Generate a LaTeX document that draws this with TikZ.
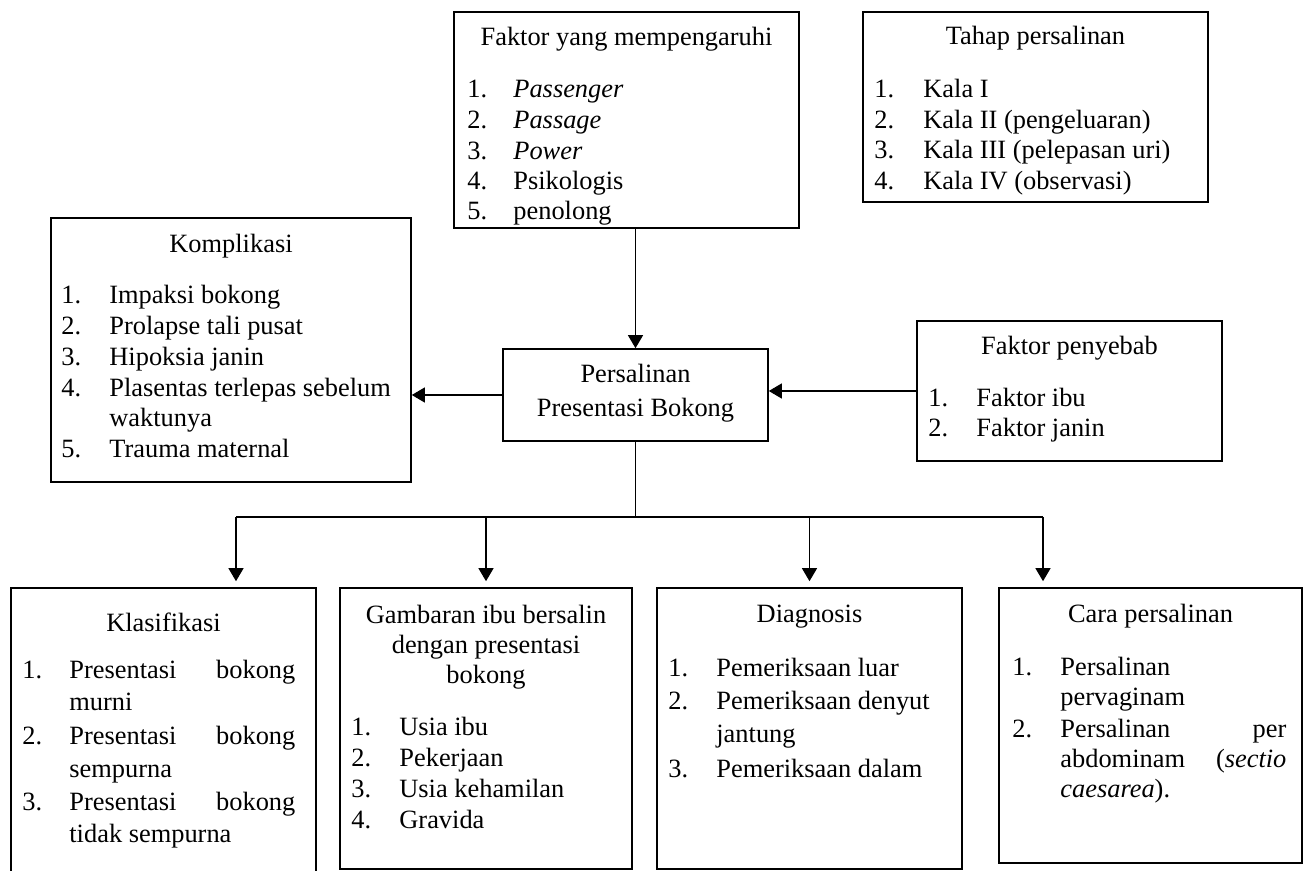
\documentclass[tikz,border=0pt]{standalone}
\usepackage{fontspec}
\setmainfont{Liberation Serif}
\usetikzlibrary{arrows.meta,fit}
\begin{document}
\begin{tikzpicture}[x=0.5pt,y=-0.5pt,
  font=\fontsize{13.2}{15.25}\selectfont,
  box/.style={draw,line width=0.8pt,inner sep=0pt},
  ttl/.style={anchor=base,inner sep=0pt},
  itm/.style={anchor=base west,inner sep=0pt},
  conn/.style={line width=0.6pt},
  arr/.style={conn,-{Triangle[width=7.5pt,length=6.5pt]}}]
\clip (0,0) rectangle (1307,871);
\fill[white] (0,0) rectangle (1307,871);

% Faktor yang mempengaruhi
\node[box,fit={(454,12) (799,228)}] (fm) {};
\node[ttl] (fmT) at (626.5,46) {Faktor yang mempengaruhi};
\node[itm] (fmN1) at (467,98) {1.};  \node[itm] (fmI1) at (513,98) {\textit{Passenger}};
\node[itm] (fmN2) at (467,129) {2.}; \node[itm] (fmI2) at (513,129) {\textit{Passage}};
\node[itm] (fmN3) at (467,160) {3.}; \node[itm] (fmI3) at (513,160) {\textit{Power}};
\node[itm] (fmN4) at (467,190) {4.}; \node[itm] (fmI4) at (513,190) {Psikologis};
\node[itm] (fmN5) at (467,220) {5.}; \node[itm] (fmI5) at (513,220) {penolong};

% Tahap persalinan
\node[box,fit={(863,12) (1208,202)}] (tp) {};
\node[ttl] (tpT) at (1035.5,45) {Tahap persalinan};
\node[itm] (tpN1) at (874,98) {1.};    \node[itm] (tpI1) at (923,98) {Kala I};
\node[itm] (tpN2) at (874,128.5) {2.}; \node[itm] (tpI2) at (923,128.5) {Kala II (pengeluaran)};
\node[itm] (tpN3) at (874,159) {3.};   \node[itm] (tpI3) at (923,159) {Kala III (pelepasan uri)};
\node[itm] (tpN4) at (874,189.5) {4.}; \node[itm] (tpI4) at (923,189.5) {Kala IV (observasi)};

% Komplikasi
\node[box,fit={(51,218) (411,482)}] (ko) {};
\node[ttl] (koT) at (231,253) {Komplikasi};
\node[itm] (koN1) at (61,304) {1.}; \node[itm] (koI1) at (109,304) {Impaksi bokong};
\node[itm] (koN2) at (61,335) {2.}; \node[itm] (koI2) at (109,335) {Prolapse tali pusat};
\node[itm] (koN3) at (61,366) {3.}; \node[itm] (koI3) at (109,366) {Hipoksia janin};
\node[itm] (koN4) at (61,397) {4.}; \node[itm] (koI4) at (109,397) {Plasentas terlepas sebelum};
\node[itm] (koI4b) at (109,427) {waktunya};
\node[itm] (koN5) at (61,458) {5.}; \node[itm] (koI5) at (109,458) {Trauma maternal};

% Persalinan Presentasi Bokong
\node[box,fit={(503,349) (768,441)}] (pb) {};
\node[ttl] (pbT1) at (635.5,383) {Persalinan};
\node[ttl] (pbT2) at (635.5,417) {Presentasi Bokong};

% Faktor penyebab
\node[box,fit={(917,321) (1222,461)}] (fp) {};
\node[ttl] (fpT) at (1069.5,355) {Faktor penyebab};
\node[itm] (fpN1) at (928,407) {1.}; \node[itm] (fpI1) at (976,407) {Faktor ibu};
\node[itm] (fpN2) at (928,437) {2.}; \node[itm] (fpI2) at (976,437) {Faktor janin};

% Klasifikasi
\node[box,fit={(11,588) (316,885)}] (kl) {};
\node[ttl] (klT) at (163.5,632) {Klasifikasi};
\node[itm] (klN1) at (22,678) {1.}; \node[itm] (klI1) at (69,678) {\makebox[113pt][s]{Presentasi\hfill bokong}};
\node[itm] (klI1b) at (69,710) {murni};
\node[itm] (klN2) at (22,744) {2.}; \node[itm] (klI2) at (69,744) {\makebox[113pt][s]{Presentasi\hfill bokong}};
\node[itm] (klI2b) at (69,777) {sempurna};
\node[itm] (klN3) at (22,810) {3.}; \node[itm] (klI3) at (69,810) {\makebox[113pt][s]{Presentasi\hfill bokong}};
\node[itm] (klI3b) at (69,842) {tidak sempurna};

% Gambaran
\node[box,fit={(340,588) (632,869)}] (ga) {};
\node[ttl] (gaT1) at (486,623) {Gambaran ibu bersalin};
\node[ttl] (gaT2) at (486,653) {dengan presentasi};
\node[ttl] (gaT3) at (486,683) {bokong};
\node[itm] (gaN1) at (351,735) {1.}; \node[itm] (gaI1) at (399,735) {Usia ibu};
\node[itm] (gaN2) at (351,766) {2.}; \node[itm] (gaI2) at (399,766) {Pekerjaan};
\node[itm] (gaN3) at (351,797) {3.}; \node[itm] (gaI3) at (399,797) {Usia kehamilan};
\node[itm] (gaN4) at (351,828) {4.}; \node[itm] (gaI4) at (399,828) {Gravida};

% Diagnosis
\node[box,fit={(657,588) (962,869)}] (dg) {};
\node[ttl] (dgT) at (809.5,622) {Diagnosis};
\node[itm] (dgN1) at (668,676) {1.}; \node[itm] (dgI1) at (716,676) {Pemeriksaan luar};
\node[itm] (dgN2) at (668,709) {2.}; \node[itm] (dgI2) at (716,709) {Pemeriksaan denyut};
\node[itm] (dgI2b) at (716,742) {jantung};
\node[itm] (dgN3) at (668,777) {3.}; \node[itm] (dgI3) at (716,777) {Pemeriksaan dalam};

% Cara persalinan
\node[box,fit={(999,588) (1302,863)}] (cp) {};
\node[ttl] (cpT) at (1150.5,622) {Cara persalinan};
\node[itm] (cpN1) at (1012,675) {1.}; \node[itm] (cpI1) at (1060,675) {Persalinan};
\node[itm] (cpI1b) at (1060,705) {pervaginam};
\node[itm] (cpN2) at (1012,737) {2.}; \node[itm] (cpI2) at (1060,737) {\makebox[113pt][s]{Persalinan\hfill per}};
\node[itm] (cpI2b) at (1060,767) {\makebox[113pt][s]{abdominam\hfill (\textit{sectio}}};
\node[itm] (cpI2c) at (1060,797) {\textit{caesarea}).};

% connectors
\draw[arr] (pb.north |- fm.south) -- (pb.north);
\draw[arr] (pb.west) -- (pb.west -| ko.east);
\draw[arr] (fp.west) -- (fp.west -| pb.east);
\coordinate (busL) at (236,517);
\coordinate (busR) at (1043,517);
\draw[conn] (pb.south) -- (pb.south |- busL);
\draw[conn] (busL) -- (busR);
\draw[arr,shorten >=3pt] (busL) -- (busL |- kl.north);
\draw[arr,shorten >=3pt] (ga.north |- busL) -- (ga.north);
\draw[arr,shorten >=3pt] (dg.north |- busL) -- (dg.north);
\draw[arr,shorten >=3pt] (busR) -- (busR |- cp.north);
\end{tikzpicture}
\end{document}
